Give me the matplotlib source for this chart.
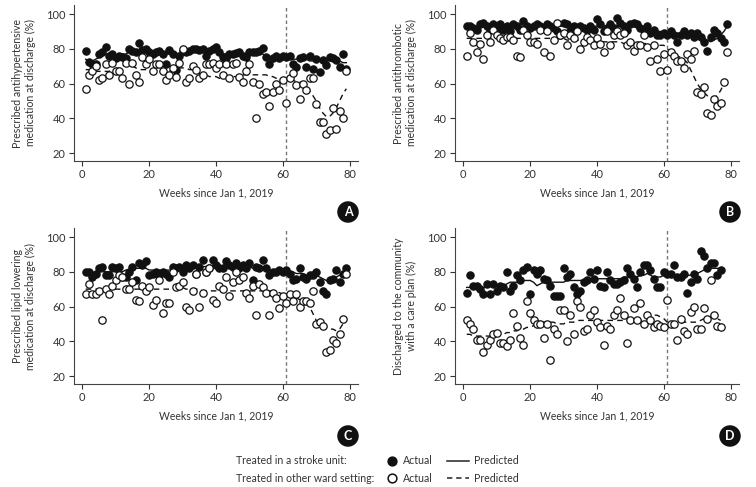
import numpy as np
import matplotlib
matplotlib.use("Agg")
import matplotlib.pyplot as plt

plt.rcParams['font.family'] = ['Lato', 'DejaVu Sans']

# ---------------- data ----------------
a_stroke = [79, 72.5, 71.5, 71, 77, 78, 81, 76, 77, 74.5,
            76, 75, 74.5, 80, 79, 78, 83.5, 79.5, 80, 78,
            77, 78, 79, 77, 71.5, 79.5, 77, 68, 76, 79,
            78, 79, 80, 80, 79.5, 80, 76, 79, 80, 81,
            78, 75.5, 74.5, 77, 77, 77.5, 78, 76, 75.5, 78,
            78, 78, 79, 80.5, 75.5, 71.5, 74.5, 76, 74.5, 76,
            75.5, 76, 71.5, 69.5, 74.5, 75.5, 69.5, 76, 68.5, 74,
            66.5, 73.5, 70.5, 75.5, 74.5, 73.5, 69.5, 77, 68.5]
a_other = [57, 65, 67, 70, 62, 63, 71, 65, 72, 67,
           67, 63, 72, 60, 72, 65, 61, 75, 71, 74,
           67, 71, 71, 67, 62, 65, 69, 64, 72, 80,
           61, 63, 70, 68, 63, 65, 71, 71, 72, 69,
           71, 65, 71, 63, 71, 72, 64, 61, 67, 71,
           61, 40, 60, 54, 55, 47, 55, 60, 56, 62,
           49, 63, 66, 59, 51, 60, 56, 63, 63, 48,
           38, 38, 31, 33, 46, 34, 44, 40, 67]
a_pred_stroke = [74, 73, 73, 74, 75, 76, 77, 77, 76, 76,
                 76, 77, 77, 78, 78, 78, 78, 78, 78, 78,
                 77, 77, 77, 77, 77, 77, 77, 77, 77, 77,
                 78, 78, 78, 78, 78, 78, 78, 78, 78, 78,
                 77, 77, 77, 77, 77, 77, 77, 77, 77, 77,
                 77, 77, 77, 77, 76, 75, 75, 75, 75, 75,
                 75, 75, 74, 74, 74, 74, 74, 73, 73, 73,
                 73, 73, 73, 73, 73, 73, 73, 72, 72]
a_pred_other = [68, 68, 68, 67, 67, 67, 67, 67, 68, 68,
                69, 70, 71, 71, 70, 69, 68, 68, 68, 68,
                68, 68, 67, 67, 67, 67, 68, 68, 69, 69,
                69, 68, 68, 67, 66, 65, 65, 64, 64, 64,
                63, 63, 63, 63, 64, 64, 65, 65, 65, 65,
                65, 65, 65, 65, 65, 64, 64, 63, 63, 62,
                62, 62, 62, 61, 61, 60, 59, 56, 53, 50,
                46, 43, 41, 41, 43, 46, 50, 54, 57]

b_stroke = [93, 93, 92, 91, 94, 95, 93, 91, 94, 92,
            94, 91, 93, 90, 94, 93, 91, 96, 93, 92,
            93, 94, 93, 92, 94, 93, 92, 90, 88, 95,
            94, 90, 93, 91, 93, 92, 91, 93, 91, 97,
            94, 90, 92, 94, 92, 98, 95, 93, 91, 94,
            95, 94, 92, 91, 93, 89, 91, 88, 88, 89,
            88, 90, 88, 84, 88, 90, 88, 89, 87, 89,
            87, 84, 79, 87, 91, 89, 86, 84, 94]
b_other = [76, 89, 84, 78, 83, 74, 88, 84, 91, 88,
           86, 85, 87, 87, 85, 76, 75, 91, 88, 84,
           84, 83, 91, 78, 90, 76, 85, 95, 88, 89,
           82, 88, 86, 90, 80, 84, 87, 85, 82, 86,
           83, 78, 90, 82, 88, 90, 88, 89, 82, 84,
           79, 82, 82, 88, 81, 73, 82, 74, 67, 77,
           68, 78, 76, 73, 73, 69, 77, 74, 79, 55,
           54, 58, 43, 42, 51, 47, 49, 61, 78]
b_pred_stroke = [92, 92, 92, 93, 93, 93, 93, 93, 93, 93,
                 93, 93, 93, 93, 93, 93, 93, 93, 93, 93,
                 93, 93, 93, 93, 93, 93, 93, 93, 93, 93,
                 93, 93, 93, 93, 93, 93, 93, 93, 93, 93,
                 93, 93, 93, 93, 93, 93, 93, 93, 93, 93,
                 93, 93, 93, 92, 92, 91, 91, 90, 90, 90,
                 89, 89, 89, 89, 89, 89, 89, 89, 88, 88,
                 87, 86, 85, 84, 85, 86, 88, 90, 93]
b_pred_other = [86, 86, 86, 86, 86, 86, 86, 86, 86, 86,
                86, 86, 86, 86, 86, 86, 86, 86, 86, 86,
                86, 86, 86, 86, 86, 86, 86, 86, 86, 86,
                85, 85, 85, 85, 85, 85, 85, 85, 85, 85,
                84, 84, 84, 84, 84, 84, 84, 83, 83, 83,
                83, 83, 83, 83, 83, 82, 82, 82, 82, 82,
                80, 78, 77, 76, 75, 74, 72, 68, 64, 60,
                57, 55, 53, 52, 52, 53, 56, 60, 64]

c_stroke = [80, 80, 77, 79, 82, 83, 78, 78, 83, 82,
            83, 77, 77, 80, 83, 75, 85, 84, 86, 78,
            79, 80, 78, 80, 79, 77, 83, 82, 83, 80,
            84, 82, 84, 79, 83, 87, 80, 82, 87, 84,
            82, 82, 86, 84, 83, 85, 82, 84, 82, 85,
            75, 83, 82, 87, 82, 78, 80, 80, 81, 80,
            81, 79, 75, 76, 82, 77, 76, 78, 78, 80,
            74, 69, 67, 75, 76, 81, 74, 79, 82]
c_other = [67, 73, 67, 67, 69, 52, 70, 67, 72, 75,
           78, 77, 70, 70, 74, 64, 63, 72, 69, 71,
           61, 64, 75, 56, 62, 62, 80, 71, 72, 74,
           60, 58, 69, 79, 60, 68, 80, 82, 64, 62,
           72, 70, 77, 66, 74, 80, 75, 77, 68, 65,
           72, 55, 73, 71, 68, 55, 68, 65, 59, 66,
           62, 67, 63, 67, 60, 63, 63, 62, 69, 50,
           51, 49, 34, 35, 41, 39, 44, 53, 79]
c_pred_stroke = [79, 79, 79, 80, 80, 80, 80, 80, 80, 80,
                 80, 80, 81, 81, 81, 82, 82, 82, 82, 81,
                 81, 81, 81, 81, 81, 81, 81, 82, 82, 82,
                 82, 82, 83, 83, 83, 83, 83, 83, 83, 83,
                 83, 83, 83, 83, 83, 83, 83, 83, 83, 83,
                 82, 82, 82, 82, 82, 81, 81, 81, 81, 81,
                 80, 80, 80, 79, 79, 79, 78, 78, 78, 78,
                 77, 76, 75, 75, 76, 77, 78, 79, 80]
c_pred_other = [70, 70, 70, 70, 70, 70, 70, 70, 70, 70,
                70, 70, 70, 70, 70, 70, 70, 70, 70, 70,
                70, 70, 70, 70, 70, 70, 70, 71, 71, 71,
                70, 70, 70, 70, 70, 69, 69, 69, 69, 69,
                69, 69, 69, 69, 69, 69, 69, 69, 69, 69,
                69, 69, 69, 69, 69, 69, 69, 68, 68, 67,
                66, 66, 65, 65, 64, 63, 62, 60, 56, 52,
                50, 49, 48, 47, 47, 46, 47, 50, 54]

d_stroke = [68, 78, 72, 72, 70, 67, 73, 67, 73, 69,
            72, 71, 80, 69, 72, 78, 75, 81, 83, 67,
            81, 79, 81, 76, 75, 72, 66, 66, 66, 82,
            77, 79, 71, 67, 69, 74, 75, 80, 76, 81,
            72, 71, 80, 75, 73, 73, 74, 75, 82, 79,
            76, 71, 80, 84, 84, 81, 76, 71, 71, 80,
            79, 79, 84, 77, 77, 79, 68, 74, 79, 76,
            92, 89, 82, 85, 85, 78, 81]
d_other = [52, 50, 47, 41, 41, 34, 38, 41, 44, 45,
           39, 39, 37, 41, 56, 49, 42, 38, 63, 56,
           52, 50, 50, 42, 50, 29, 47, 44, 58, 58,
           40, 55, 44, 63, 60, 46, 47, 55, 58, 51,
           48, 38, 49, 47, 55, 58, 65, 55, 39, 52,
           59, 52, 62, 50, 55, 52, 48, 50, 49, 48,
           64, 50, 50, 41, 53, 46, 44, 57, 60, 47,
           47, 59, 53, 75, 55, 49, 48]
d_pred_stroke = [71, 71, 71, 71, 71, 71, 71, 72, 72, 72,
                 72, 72, 73, 74, 74, 74, 75, 75, 75, 75,
                 74, 72, 73, 74, 74, 74, 74, 74, 74, 74,
                 75, 75, 75, 75, 75, 75, 75, 75, 75, 76,
                 76, 76, 76, 76, 76, 76, 76, 77, 77, 77,
                 77, 77, 78, 78, 79, 78, 77, 77, 77, 78,
                 78, 78, 78, 78, 78, 78, 78, 78, 79, 79,
                 80, 81, 82, 82, 82, 82, 82]
d_pred_other = [44, 44, 43, 43, 43, 43, 43, 43, 43, 44,
                44, 44, 45, 45, 46, 46, 47, 47, 48, 48,
                49, 50, 51, 51, 51, 51, 51, 50, 50, 50,
                51, 51, 51, 52, 52, 52, 52, 52, 52, 52,
                52, 52, 52, 52, 52, 52, 52, 52, 52, 52,
                52, 52, 52, 52, 53, 54, 55, 55, 54, 53,
                51, 50, 50, 50, 50, 51, 51, 51, 51, 51,
                52, 53, 53, 54, 54, 53, 52]

ylabels = {
    "A": "Prescribed antihypertensive\nmedication at discharge (%)",
    "B": "Prescribed antithrombotic\nmedication at discharge (%)",
    "C": "Prescribed lipid lowering\nmedication at discharge (%)",
    "D": "Discharged to the community\nwith a care plan (%)",
}
intervention_week = 61
xticks = [0, 20, 40, 60, 80]
yticks = [20, 40, 60, 80, 100]

panels = {
    "A": (a_stroke, a_other, a_pred_stroke, a_pred_other),
    "B": (b_stroke, b_other, b_pred_stroke, b_pred_other),
    "C": (c_stroke, c_other, c_pred_stroke, c_pred_other),
    "D": (d_stroke, d_other, d_pred_stroke, d_pred_other),
}

# ---------------- layout ----------------
W, H = 756, 487
fig = plt.figure(figsize=(W / 100, H / 100), dpi=100)

# pixel boxes: left, top, right, bottom
boxes = {
    "A": (74, 5, 358, 161),
    "B": (455, 5, 739, 161),
    "C": (74, 228, 358, 384),
    "D": (455, 228, 739, 384),
}
letter_pos = {"A": (348, 212), "B": (730, 212), "C": (348, 436), "D": (730, 436)}

txt = '#333333'
fs = 7.6
ms = 5.3

for key, (s, o, ps, po) in panels.items():
    l, t, r, b = boxes[key]
    ax = fig.add_axes([l / W, 1 - b / H, (r - l) / W, (b - t) / H])
    xs = np.arange(1, len(s) + 1)
    xo = np.arange(1, len(o) + 1)
    xps = np.arange(1, len(ps) + 1)
    xpo = np.arange(1, len(po) + 1)
    ax.plot(xps, ps, color='#111111', lw=1.0, zorder=2)
    ax.plot(xpo, po, color='#111111', lw=1.0, ls=(0, (4, 3)), zorder=2)
    ax.plot(xs, s, 'o', ms=ms, mfc='#111111', mec='#111111', mew=0.8, zorder=3)
    ax.plot(xo, o, 'o', ms=ms, mfc='white', mec='#111111', mew=0.9, zorder=4)
    ax.axvline(intervention_week, color='#777777', lw=1.0, ls=(0, (2.5, 2)), zorder=1)
    ax.set_xlim(-2.5, 82.5)
    ax.set_ylim(15.4, 105.2)
    ax.set_xticks(xticks)
    ax.set_yticks(yticks)
    ax.tick_params(labelsize=8, colors=txt, length=3.5, width=0.8, pad=2.5)
    for sp in ['top', 'right']:
        ax.spines[sp].set_visible(False)
    for sp in ['left', 'bottom']:
        ax.spines[sp].set_color('#444444')
        ax.spines[sp].set_linewidth(0.8)
    ax.set_xlabel("Weeks since Jan 1, 2019", fontsize=fs, color=txt, labelpad=5)
    ax.set_ylabel(ylabels[key], fontsize=fs, color=txt, labelpad=7, linespacing=1.25)
    lx, ly = letter_pos[key]
    fig.text(lx / W, 1 - ly / H, key, ha='center', va='center', fontsize=9,
             color='white', fontweight='bold',
             bbox=dict(boxstyle='circle,pad=0.38', fc='#111111', ec='none'))

# ---------------- legend ----------------
lg = fig.add_axes([0, 0, 1, 1])
lg.set_xlim(0, W)
lg.set_ylim(H, 0)
lg.axis('off')
rows = [(461, "Treated in a stroke unit:", '#111111', '-'),
        (478, "Treated in other ward setting:", 'white', (0, (3.5, 2.5)))]
for y, label, fc, ls in rows:
    lg.text(236, y, label, ha='left', va='center', fontsize=fs, color=txt)
    lg.plot([392], [y], 'o', ms=6.3, mfc=fc, mec='#111111', mew=1.1)
    lg.text(403, y, "Actual", ha='left', va='center', fontsize=fs, color=txt)
    lg.plot([447, 469], [y, y], color='#222222', lw=1.1, ls=ls)
    lg.text(474, y, "Predicted", ha='left', va='center', fontsize=fs, color=txt)

fig.savefig("out.png", dpi=100)
